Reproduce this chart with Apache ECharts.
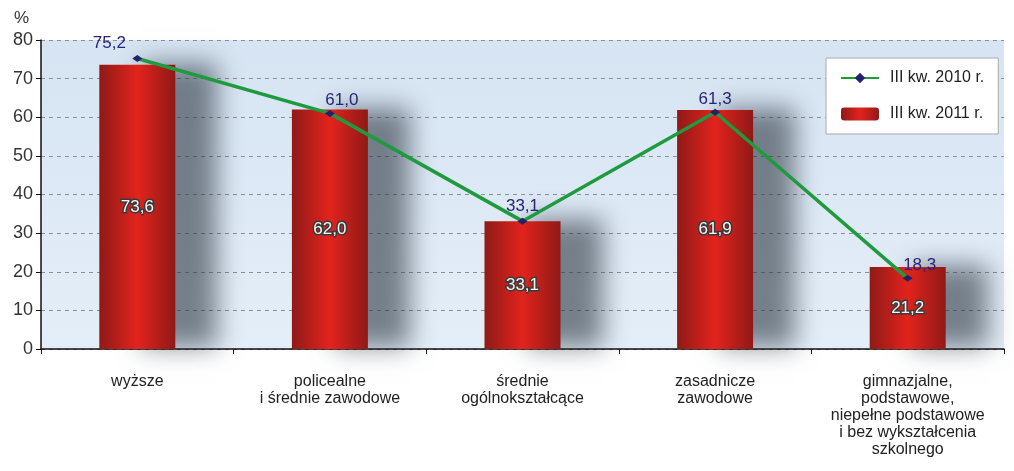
<!DOCTYPE html>
<html>
<head>
<meta charset="utf-8">
<script src="https://cdn.jsdelivr.net/npm/echarts@6/dist/echarts.min.js"></script>
<style>
  html, body { margin: 0; padding: 0; background: #fff; }
  #main { width: 1014px; height: 471px; }
</style>
</head>
<body>
<div id="main"></div>
<script>
// dane
var kategorie = [
  'wyższe',
  'policealne\ni średnie zawodowe',
  'średnie\nogólnokształcące',
  'zasadnicze\nzawodowe',
  'gimnazjalne,\npodstawowe,\nniepełne podstawowe\ni bez wykształcenia\nszkolnego'
];
var rok2010 = [75.2, 61.0, 33.1, 61.3, 18.3];
var rok2011 = [73.6, 62.0, 33.1, 61.9, 21.2];

var fmt = function (v) { return v.toFixed(1).replace('.', ','); };

// przesuniecia etykiet linii
var przes = [[-28, 0], [12, 2], [0, 0], [0, 2], [12, 2]];

var barFill = new echarts.graphic.LinearGradient(0, 0, 1, 0, [
  { offset: 0, color: '#8e1a17' },
  { offset: 0.5, color: '#e3231d' },
  { offset: 1, color: '#8e1a17' }
]);

var chart = echarts.init(document.getElementById('main'));
chart.setOption({
  animation: false,
  textStyle: { fontFamily: 'Liberation Sans, Arial, sans-serif' },
  title: {
    text: '%',
    left: 9,
    top: 5,
    textStyle: { fontSize: 17, fontWeight: 'normal', color: '#333' }
  },
  legend: {
    orient: 'vertical',
    left: 826,
    top: 58,
    padding: [12, 14, 12, 14],
    itemGap: 20,
    itemWidth: 38,
    itemHeight: 13,
    backgroundColor: '#fff',
    borderColor: '#aaa',
    borderWidth: 1,
    textStyle: { fontSize: 16, color: '#222', padding: [0, 0, 0, 6] },
    data: ['III kw. 2010 r.', 'III kw. 2011 r.']
  },
  grid: {
    left: 41,
    right: 10,
    top: 40,
    bottom: 122,
    show: true,
    borderWidth: 0,
    backgroundColor: new echarts.graphic.LinearGradient(0, 0, 0, 1, [
      { offset: 0, color: '#d6e4f3' },
      { offset: 1, color: '#e4eef8' }
    ])
  },
  xAxis: {
    type: 'category',
    data: kategorie,
    axisLine: { lineStyle: { color: '#111', width: 1.5 } },
    axisTick: { show: true, length: 5, alignWithLabel: false, lineStyle: { color: '#111' } },
    axisLabel: { fontSize: 16, color: '#222', lineHeight: 17, margin: 24, interval: 0 }
  },
  yAxis: {
    type: 'value',
    min: 0,
    max: 80,
    interval: 10,
    axisLine: { show: true, lineStyle: { color: '#111', width: 1.5 } },
    axisTick: { show: true, length: 5, lineStyle: { color: '#111' } },
    axisLabel: { fontSize: 18, color: '#333', margin: 8 },
    splitLine: { lineStyle: { color: '#8a8f96', type: [4, 4], width: 1 } }
  },
  series: [
    {
      name: 'III kw. 2011 r.',
      type: 'bar',
      barWidth: 76,
      data: rok2011,
      itemStyle: {
        color: barFill,
        shadowColor: 'rgba(45,55,65,0.6)',
        shadowBlur: 24,
        shadowOffsetX: 42,
        shadowOffsetY: -2
      },
      label: {
        show: true,
        position: 'inside',
        formatter: function (p) { return fmt(p.value); },
        fontSize: 17,
        color: '#f4f4f4',
        textBorderColor: '#3a3a3a',
        textBorderWidth: 3
      },
      z: 2
    },
    {
      name: 'III kw. 2010 r.',
      type: 'line',
      data: rok2010.map(function (v, i) {
        return { value: v, label: { offset: przes[i] } };
      }),
      symbol: 'diamond',
      symbolSize: [10, 7],
      lineStyle: { color: '#1f9a3e', width: 3.5 },
      itemStyle: { color: '#23206e' },
      label: {
        show: true,
        position: 'top',
        distance: 3,
        formatter: function (p) { return fmt(p.value); },
        fontSize: 17,
        color: '#2a2474'
      },
      z: 5
    }
  ]
});
</script>
</body>
</html>
